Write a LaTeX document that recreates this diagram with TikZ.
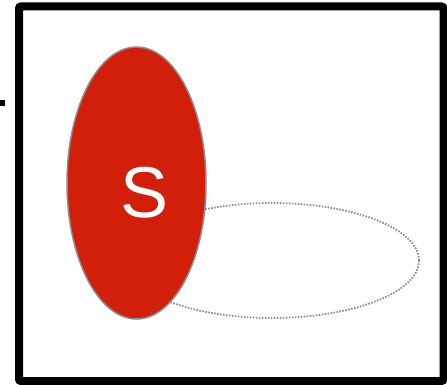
\documentclass[tikz,border=0pt]{standalone}
\usepackage{fontspec}
\setmainfont{Liberation Sans}
\definecolor{sred}{RGB}{209,31,10}
\definecolor{sgray}{RGB}{140,140,140}
\definecolor{dgray}{RGB}{140,140,140}
\begin{document}
\begin{tikzpicture}[x=1pt,y=-1pt,
  frame/.style={draw=black,line width=8pt,rounded corners=2pt},
  setS/.style={fill=sred,draw=sgray,line width=1.5pt},
  other/.style={draw=dgray,line width=1.8pt,dash pattern=on 1.6pt off 1.4pt},
  lbl/.style={text=white,font=\fontsize{72}{72}\selectfont,inner sep=0pt}]
\useasboundingbox (0,0) rectangle (447,385);
\fill[black] (0,100) rectangle (5,106);
\draw[frame] (19,6.5) rectangle (443.5,381);
\draw[other] (272,260.5) ellipse [x radius=147,y radius=57.5];
\draw[setS] (136.5,183) ellipse [x radius=69.5,y radius=136];
\node[lbl] (S) at (145,193) {S};
\end{tikzpicture}
\end{document}
